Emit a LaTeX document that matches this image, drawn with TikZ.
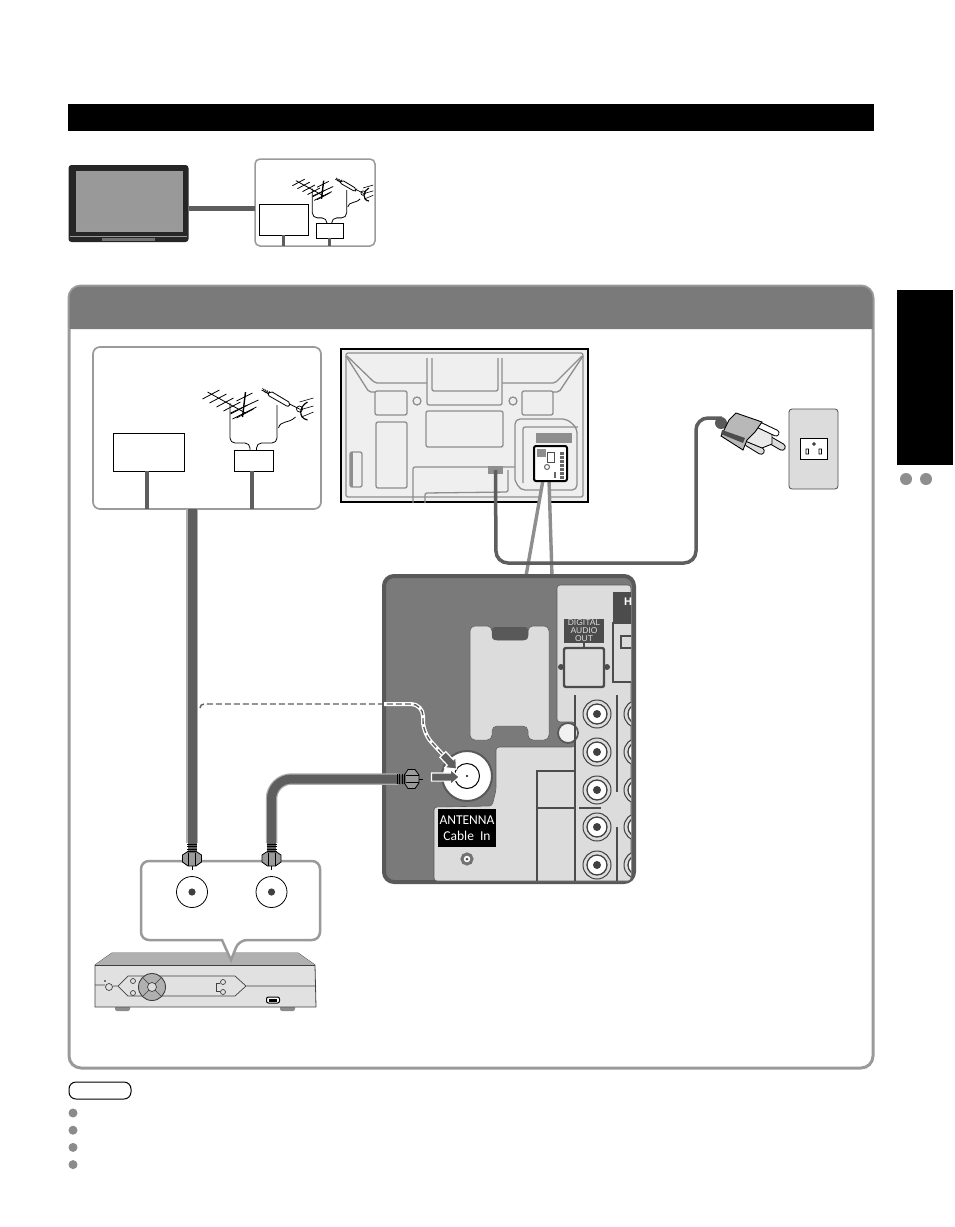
\documentclass[tikz,border=0pt]{standalone}
\usepackage{fontspec}
\setmainfont{Liberation Sans}
\newfontfamily\labelfont{Carlito}
\usetikzlibrary{positioning,shapes.arrows}
\definecolor{rim}{HTML}{9A9A9A}
\definecolor{cable}{HTML}{5E5E5E}
\definecolor{panelgray}{HTML}{7A7A7A}
\definecolor{lightgray}{HTML}{DCDCDC}
\definecolor{tvline}{HTML}{8E8E8E}
\tikzset{
  x=1pt, y=-1pt,
  every node/.style={inner sep=0pt, outer sep=0pt},
  area/.style={rectangle, rounded corners=7pt, draw=rim, line width=1.7pt, fill=white},
  inbox/.style={rectangle, draw=black, line width=1pt, fill=white},
  stem/.style={cable, line width=4pt},
  cord/.style={cable, line width=3.5pt, rounded corners=12pt},
  coax/.style={line width=11.5pt, draw=rim!80},
  coaxin/.style={line width=9pt, draw=cable},
  back/.style={tvline, line width=1.3pt, rounded corners=2pt},
  dark/.style={draw=black!70, line width=1.6pt},
  dot/.style={circle, fill=rim!90!black, minimum size=9pt},
  prong/.style={line cap=round, line width=#1},
  inarrow/.style={single arrow, draw=white, fill=cable, line width=1.2pt, minimum height=28pt,
    inner ysep=3.5pt, single arrow head extend=3.5pt, single arrow head indent=0pt, single arrow tip angle=80},
  jack/.pic={
    \draw[black!75, line width=1pt, fill=lightgray] (0,0) circle (14);
    \draw[black!75, line width=1.3pt, fill=white] (0,0) circle (10);
    \fill[black!75] (0,0) circle (4);
  },
  fconn/.pic={
    \fill[cable] (-4.5,-9) rectangle (4.5,0);
    \foreach \yy in {-8,-5.5,-3,-0.5} \draw[black, line width=.5pt] (-5,\yy) -- (5,\yy);
    \draw[black, line width=.8pt, fill=rim] (-9.5,3) -- (-5,0) -- (5,0) -- (9.5,3) -- (9.5,10) -- (4,14) -- (-4,14) -- (-9.5,10) -- cycle;
    \draw[black, line width=.5pt] (-3.5,1) -- (-3.5,14) (3.5,1) -- (3.5,14);
    \draw[black, line width=.8pt] (0,14) -- (0,18);
  },
  antennas/.pic={
    \draw[black, line width=.8pt, rounded corners=5pt] (-23.5,-47) -- (-23.5,-7) -- (-3.5,-7) -- (-3.5,0);
    \draw[black, line width=.8pt, rounded corners=5pt] (23.5,-45) -- (23.5,-7) -- (3,-7) -- (3,0);
    \draw[black, line width=.8pt] (-46,-58) -- (-8,-37);
    \foreach \cx/\cy in {-42/-56,-35/-52,-28/-48,-21/-44,-14/-41,-8/-37}
      \draw[black, line width=.8pt] (\cx-9,\cy+5) -- (\cx+8,\cy-4);
    \draw[black, line width=.8pt] (-17,-49) -- (-1,-57) (-23,-37) -- (5,-50) (-21,-31) -- (3,-43);
    \draw[black, line width=1.4pt] (-8,-58) -- (-11,-33);
    \draw[black, line width=.7pt] (8,-60) -- (46,-41);
    \foreach \tt in {0,...,9}
      \draw[black, line width=.6pt] (9+2.2*\tt,-62+1.1*\tt) -- (12+2.2*\tt,-57+1.1*\tt);
    \draw[black, line width=.8pt, fill=white, rounded corners=2pt] (14,-55) -- (17,-59) -- (37,-47) -- (35,-43) -- cycle;
    \draw[black, line width=.8pt] (25,-22) .. controls (27,-30) and (35,-26) .. (42,-33);
    \draw[black, line width=1.2pt] (54,-48) .. controls (46,-44) and (44,-32) .. (54,-30);
    \draw[black, line width=.7pt] (46,-41) circle (3);
    \draw[black, line width=.6pt] (46,-48) -- (60,-52) (46,-40) -- (60,-44) (48,-33) -- (60,-38);
  },
}
\begin{document}
\begin{tikzpicture}
  \useasboundingbox (0,0) rectangle (954,1227);
  \fill[white] (0,0) rectangle (954,1227);

  % top bar and side tab
  \fill[black] (68,104) rectangle (874,131);
  \fill[black] (897,290) rectangle (953,465);
  \node[dot, minimum size=12pt, fill=tvline] (tabdotA) at (906,479) {};
  \node[dot, minimum size=12pt, fill=tvline] (tabdotB) [right=8pt of tabdotA] {};

  % small overview
  \node[rectangle, rounded corners=3pt, fill=black!85, minimum width=120pt, minimum height=77pt] (tvsmall) at (128.5,203.5) {};
  \node[rectangle, fill=tvline!90, draw=rim, line width=.6pt, minimum width=106pt, minimum height=60pt] (screen) at (129,201.5) {};
  \draw[rim, line width=.5pt] (70,236) -- (187,236);
  \fill[black!55] (102,238) rectangle (155,241);
  \node[area, rounded corners=5pt, line width=1.5pt, minimum width=120pt, minimum height=87pt] (areasmall) at (315,202.5) {};
  \draw[stem, line width=5pt] (tvsmall.east |- 0,208.5) -- (areasmall.west |- 0,208.5);
  \node[inbox, minimum width=49pt, minimum height=31pt] (cablesmall) at (283.5,219.5) {};
  \node[inbox, minimum width=27pt, minimum height=15pt] (convsmall) at (329.5,230.5) {};
  \draw[stem, line width=3.5pt] (cablesmall.south) -- (cablesmall.south |- areasmall.south);
  \draw[stem, line width=3pt] (convsmall.south) -- (convsmall.south |- areasmall.south);
  \pic[scale=.73] at (329.5,223) {antennas};

  % main panel
  \node[rectangle, rounded corners=12pt, draw=rim, line width=3pt, fill=white, minimum width=804pt, minimum height=782pt] (panel) at (471,677) {};
  \fill[panelgray] (69.5,329) [rounded corners=11pt] -- (69.5,286.5) -- (872.5,286.5) [sharp corners] -- (872.5,329) -- cycle;

  % source box
  \node[area, minimum width=228pt, minimum height=162pt] (area) at (207,428) {};
  \node[inbox, minimum width=71pt, minimum height=38pt] (cablebox) at (148.5,452) {};
  \node[inbox, minimum width=39pt, minimum height=21pt] (convbox) at (253.5,460.5) {};
  \draw[stem] ([xshift=-1.5pt]cablebox.south) -- ([xshift=-1.5pt]cablebox.south |- area.south);
  \draw[stem] ([xshift=-1.5pt]convbox.south) -- ([xshift=-1.5pt]convbox.south |- area.south);
  \pic at (253.5,450) {antennas};

  % back of the tv
  \node[rectangle, draw=black, line width=1.3pt, fill=lightgray!45, minimum width=247pt, minimum height=153pt] (tvback) at (464.5,425.5) {};
  \draw[black, line width=2.2pt] (tvback.south west) -- (tvback.south east);
  \draw[back] (346,353) rectangle (583,497);
  \draw[back] (347,356) -- (375,383) -- (427,383) (502,383) -- (555,383) -- (582,356);
  \draw[back] (346,356) -- (369,392) -- (375,392) (553,392) -- (559,392) -- (583,356);
  \draw[back] (427,358) -- (427,405) -- (502,405) -- (502,358) (432,358) -- (432,391) -- (498,391) -- (498,358);
  \draw[back] (375,391) rectangle (407,415) (522,391) rectangle (553,415);
  \draw[back] (417,401) circle (4) (513,401) circle (4);
  \draw[back] (426,411) rectangle (503,447);
  \draw[back] (376,422) rectangle (407,488);
  \draw[back] (350,452) rectangle (362,487);
  \fill[tvline] (350,452) rectangle (353,487);
  \draw[back, rounded corners=5pt] (515,480) -- (515,419) -- (567,419) -- (577,428) -- (577,490) -- (520,490) -- (515,480);
  \draw[back] (523,483) -- (523,427) -- (578,427);
  \fill[tvline] (536,433) rectangle (572,443);
  \draw[back] (413,503) -- (413,467) -- (515,467);
  \draw[back] (425,503) -- (425,493) -- (508,492) -- (508,470);
  \node[rectangle, fill=tvline, minimum width=15pt, minimum height=8pt] (inlet) at (495.5,470) {};

  % highlighted terminals
  \path[fill=white] (543,480) -- (526,576) -- (552,576) -- (549,480) -- cycle;
  \draw[tvline, line width=3.4pt] (543,480) -- (526,576) (549,480) -- (552,576);
  \node[rectangle, rounded corners=2pt, draw=black, line width=2pt, fill=white, minimum width=33pt, minimum height=35pt] (terminal) at (550.5,463.5) {};
  \fill[tvline] (537,449) rectangle (546,457);
  \draw[black!70, line width=.6pt] (547,452) rectangle (554,462);
  \draw[black!60, line width=1pt] (547,467) circle (2.5);
  \foreach \yy in {452,456,...,476} \fill[black!60] (560,\yy) rectangle (564,\yy+2.5);
  \fill[black!60] (554,472) rectangle (556,478);

  % power cord
  \draw[cord] (inlet.center) -- (496,563) -- (696,563) -- (696,418) -- (722,418);
  \node[circle, fill=black!65, minimum size=12pt] (strain) at (721,423) {};
  \draw[prong=7.5pt, black] (770,440) -- (782,447);
  \draw[prong=5.5pt, lightgray] (770,440) -- (782,447);
  \draw[prong=7.5pt, black] (748,443) -- (761,451);
  \draw[prong=5.5pt, lightgray] (748,443) -- (761,451);
  \draw[black, line width=.9pt, fill=lightgray!60] (745,441) -- (762,448) -- (772,444) -- (772,434) -- (755,425) -- cycle;
  \draw[prong=7pt, black] (755,423) -- (776,433);
  \draw[prong=5pt, white] (755,423) -- (776,433);
  \draw[black, line width=.9pt, fill=rim!70] (729,420) -- (736,413) -- (762,422) -- (755,432) -- (747,440) -- (743,450) -- (721,436) -- (725,428) -- cycle;
  \fill[black!70] (722,430) -- (745,438) -- (743,443) -- (721,434) -- cycle;
  \node[rectangle, rounded corners=3pt, draw=black!70, line width=.8pt, fill=lightgray, minimum width=49pt, minimum height=80pt] (plate) at (813.5,449) {};
  \node[rectangle, draw=black, line width=1pt, fill=white, minimum width=27pt, minimum height=21pt] (socket) at (813.5,448.5) {};
  \draw[black, fill=white, line width=.7pt] (806,449) rectangle (808.5,454) (819,449) rectangle (821.5,454) (814,444) circle (1.3);

  % connection panel
  \node[rectangle, rounded corners=10pt, draw=black!65, line width=4pt, fill=panelgray, minimum width=250pt, minimum height=306pt] (ports) at (509,729) {};
  \draw[black!65, line width=.6pt, fill=lightgray, rounded corners=3pt] (557,722) -- (557,585) -- (631,585) -- (631,881) -- (434,881) -- (434,807) -- (492,806) -- (496,790) -- (496,747) -- (575,747) -- (575,722) -- cycle;
  \draw[black!65, line width=.5pt, fill=lightgray, rounded corners=5pt] (470,626) -- (492,626) -- (492,640) -- (528,640) -- (528,626) -- (549,626) -- (549,740) -- (528,740) -- (528,726) -- (492,726) -- (492,740) -- (470,740) -- cycle;
  \fill[black!65, rounded corners=3pt] (492,627) -- (492,640) -- (528,640) -- (528,627) -- cycle;
  \node[circle, draw=black!65, line width=1.8pt, fill=lightgray!40, minimum size=20pt] (hole) at (568,733) {};
  \node[circle, draw=black!65, line width=2pt, fill=white, minimum size=50pt] (antin) at (467,776) {};
  \node[circle, draw=black, line width=1pt, fill=white, minimum size=25pt] (antcore) at (467,776) {};
  \fill[black] (467,776) circle (1.2);
  % rear terminal blocks
  \begin{scope}
    \clip (557,585) rectangle (631,881);
    \foreach \yy in {714,752,790,827,865} {
      \pic at (597,\yy) {jack};
      \pic at (638,\yy) {jack};
    }
    \fill[black!70] (613,592) rectangle (631,623);
    \node[text=white, font=\bfseries, scale=1.1] (hdmi) at (628,602) {H};
    \draw[black!70, line width=1.6pt, fill=lightgray] (613,623) rectangle (640,682);
    \draw[black!70, line width=1.2pt] (634,648) -- (621,648) -- (621,636) -- (640,636);
    \draw[black!70, line width=1.2pt] (631,615) -- (628,623);
    \draw[dark] (617,695) -- (617,792) (617,827) -- (617,881);
  \end{scope}
  \draw[dark] (575,695) -- (575,881) (579,808) -- (601,808);
  \draw[dark] (575,771) -- (537,771) -- (537,881) (537,808) -- (575,808);
  \node[rectangle, fill=black!70, text=lightgray, font=\fontsize{8.5}{8}\selectfont, align=center, minimum width=40pt, minimum height=24pt] (digital) at (584,631) {DIGITAL\\AUDIO\\OUT};
  \node[rectangle, rounded corners=2pt, draw=black!70, line width=2.4pt, fill=lightgray, minimum width=40pt, minimum height=39pt] (optical) [below=5pt of digital] {};
  \draw[black!70, line width=1.4pt] (digital.south) -- (optical.north);
  \fill[black!70] (561,667) circle (3) (607,667) circle (3);
  \node[rectangle, fill=black, text=white, font=\labelfont\fontsize{13.5}{15.5}\selectfont, align=center, minimum width=58pt, minimum height=38pt] (antlabel) at (467,828) {ANTENNA\\Cable\ \ In};
  \node[circle, draw=tvline!80!black, line width=3pt, fill=white, minimum size=10pt] (screw) [below=7pt of antlabel] {};
  \fill[black!70] (screw) circle (1.5);

  % dashed route and arrows
  \draw[white, line width=4pt, rounded corners=12pt] (384,704) -- (423,704) -- (423,733) -- (445,757);
  \draw[cable, line width=1.4pt, dash pattern=on 6pt off 3pt] (200,708) [rounded corners=4pt] -- (200,704) [rounded corners=12pt] -- (423,704) -- (423,733) -- (445,757);
  \node[inarrow, minimum height=20pt, rotate=-47] (arrowup) at (448,760) {};
  \node[inarrow] (arrowin) at (443,777) {};

  % set top box
  \fill[black!45, rounded corners=2pt] (115,1005) rectangle (130,1011) (280,1005) rectangle (295,1011);
  \draw[black!75, line width=.8pt, fill=lightgray!85] (95,965) -- (112,953) -- (298,953) -- (315,965) -- (316,1007) -- (95,1007) -- cycle;
  \fill[tvline!70] (112,953) -- (298,953) -- (315,965) -- (95,965) -- cycle;
  \draw[black!75, line width=.8pt] (95,965) -- (315,965);
  \draw[black!75, line width=.7pt] (95,985) -- (105,985) (113,986) -- (118,986) -- (128,976) -- (235,976) -- (246,986) -- (235,996) -- (128,996) -- (118,986) (246,986) -- (316,986);
  \draw[black!75, line width=.7pt, fill=lightgray!85] (109,987) circle (3.5) (133,981) circle (2.5) (133,993) circle (2.5) (223,982) circle (2.5) (223,992) circle (2.5);
  \draw[black!75, line width=.7pt] (220,983) -- (216,983) -- (216,991) -- (220,991);
  \fill[black] (105,981) circle (.8);
  \node[circle, draw=black!75, line width=.9pt, fill=tvline!70, minimum size=27pt] (dpad) at (152,987) {};
  \node[circle, draw=black!75, line width=.7pt, fill=lightgray, minimum size=9pt] (okkey) at (dpad) {};
  \draw[black!75, line width=.6pt] (143,978) -- (149,984) (161,978) -- (155,984) (143,996) -- (149,990) (161,996) -- (155,990);
  \node[rectangle, rounded corners=2pt, draw=black, line width=1pt, fill=white, minimum width=13pt, minimum height=6pt] (usb) at (273,1000) {};
  \fill[black] (269,998.5) rectangle (277,1001.5);

  % callout with sockets
  \draw[rim, line width=2.5pt, fill=white, rounded corners=8pt] (222,940) -- (141,940) -- (141,861) -- (320,861) -- (320,940) -- (239,940) [sharp corners] -- (231,960) -- cycle;
  \node[circle, draw=black, line width=.8pt, fill=white, minimum size=31pt] (vhfjack) at (192,892) {};
  \node[circle, draw=black, line width=.8pt, fill=white, minimum size=31pt] (outjack) [right=48.5pt of vhfjack] {};
  \fill[black!75] (vhfjack) circle (3.6) (outjack) circle (3.6);

  % coax cables
  \coordinate (coaxA) at (192,843);
  \coordinate (coaxB) at (271.5,843);
  \coordinate (coaxC) at (398,779);
  \draw[coax] (area.south -| coaxA) -- (coaxA);
  \draw[coax, rounded corners=20pt] (coaxB) -- (271.5,779) -- (coaxC);
  \draw[coaxin] (area.south -| coaxA) -- (coaxA);
  \draw[coaxin, rounded corners=20pt] (coaxB) -- (271.5,779) -- (coaxC);
  \pic at (192,852) {fconn};
  \pic at (271.5,852) {fconn};
  \pic[rotate=90] at (405,779) {fconn};

  % note and bullets
  \node[rectangle, rounded corners=7pt, draw=black, line width=1pt, fill=white, minimum width=62pt, minimum height=17pt] (note) at (100,1090.5) {};
  \node[dot] (bulletA) at (73,1113) {};
  \node[dot] (bulletB) [below=8.2pt of bulletA] {};
  \node[dot] (bulletC) [below=8.2pt of bulletB] {};
  \node[dot] (bulletD) [below=8.2pt of bulletC] {};
\end{tikzpicture}
\end{document}
